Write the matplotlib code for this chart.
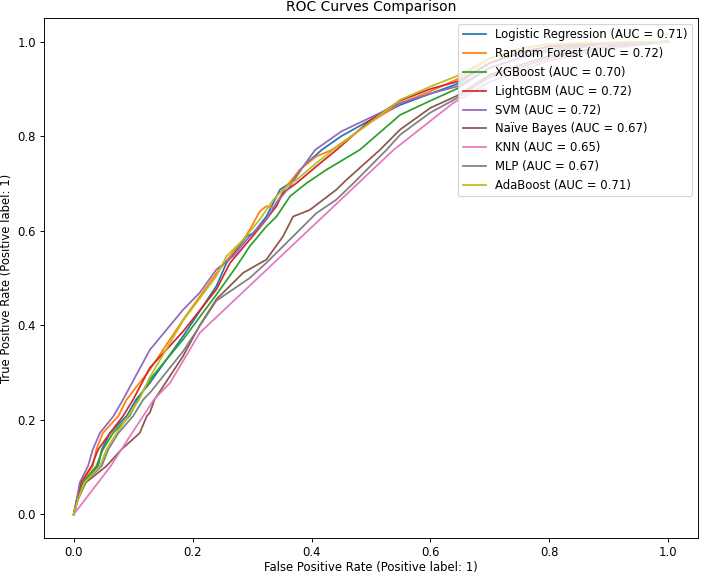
import matplotlib
matplotlib.use("Agg")
import matplotlib.pyplot as plt

model_names = ["Logistic Regression", "Random Forest", "XGBoost", "LightGBM", "SVM",
               "Naive Bayes", "KNN", "MLP", "AdaBoost"]
auc_values = [0.71, 0.72, 0.70, 0.72, 0.72, 0.67, 0.65, 0.67, 0.71]

lr_fpr = [0, 0.006, 0.016, 0.041, 0.047, 0.061, 0.089, 0.105, 0.128, 0.184, 0.240, 0.257, 0.291, 0.302, 0.324, 0.347, 0.364, 0.386, 0.417, 0.45, 0.5, 0.549, 0.6, 0.644, 0.7, 0.75, 0.8, 0.9, 1.0]
lr_tpr = [0, 0.031, 0.067, 0.102, 0.137, 0.172, 0.208, 0.243, 0.278, 0.377, 0.483, 0.532, 0.588, 0.595, 0.630, 0.687, 0.701, 0.736, 0.771, 0.80, 0.835, 0.866, 0.89, 0.91, 0.955, 0.975, 0.99, 0.997, 1.0]

rf_fpr = [0, 0.005, 0.013, 0.032, 0.038, 0.049, 0.075, 0.089, 0.128, 0.184, 0.240, 0.285, 0.296, 0.313, 0.324, 0.336, 0.341, 0.358, 0.380, 0.408, 0.434, 0.5, 0.55, 0.6, 0.644, 0.7, 0.75, 0.8, 0.9, 1.0]
rf_tpr = [0, 0.031, 0.067, 0.102, 0.137, 0.172, 0.208, 0.243, 0.306, 0.412, 0.510, 0.581, 0.602, 0.641, 0.652, 0.648, 0.659, 0.694, 0.729, 0.757, 0.771, 0.83, 0.87, 0.895, 0.92, 0.965, 0.985, 0.995, 0.998, 1.0]

xgb_fpr = [0, 0.006, 0.015, 0.038, 0.049, 0.066, 0.094, 0.108, 0.128, 0.184, 0.240, 0.274, 0.296, 0.324, 0.341, 0.364, 0.392, 0.425, 0.481, 0.549, 0.6, 0.644, 0.7, 0.8, 0.9, 1.0]
xgb_tpr = [0, 0.031, 0.067, 0.102, 0.137, 0.172, 0.208, 0.243, 0.285, 0.370, 0.465, 0.525, 0.567, 0.609, 0.630, 0.673, 0.701, 0.729, 0.771, 0.845, 0.875, 0.900, 0.945, 0.985, 0.995, 1.0]

lgbm_fpr = [0, 0.005, 0.012, 0.030, 0.041, 0.061, 0.083, 0.100, 0.128, 0.184, 0.240, 0.263, 0.296, 0.319, 0.341, 0.352, 0.375, 0.408, 0.442, 0.5, 0.549, 0.6, 0.644, 0.7, 0.75, 0.8, 0.9, 1.0]
lgbm_tpr = [0, 0.031, 0.067, 0.102, 0.137, 0.172, 0.208, 0.243, 0.310, 0.387, 0.476, 0.532, 0.581, 0.616, 0.652, 0.680, 0.701, 0.736, 0.771, 0.835, 0.875, 0.90, 0.915, 0.955, 0.978, 0.99, 0.997, 1.0]

svm_fpr = [0, 0.005, 0.010, 0.024, 0.032, 0.044, 0.067, 0.083, 0.128, 0.184, 0.212, 0.240, 0.268, 0.296, 0.324, 0.341, 0.364, 0.386, 0.406, 0.45, 0.5, 0.55, 0.6, 0.644, 0.7, 0.75, 0.8, 0.9, 1.0]
svm_tpr = [0, 0.030, 0.067, 0.102, 0.137, 0.172, 0.208, 0.243, 0.348, 0.433, 0.469, 0.518, 0.546, 0.588, 0.624, 0.659, 0.694, 0.736, 0.771, 0.81, 0.84, 0.87, 0.89, 0.905, 0.945, 0.965, 0.98, 0.995, 1.0]

nb_fpr = [0, 0.007, 0.020, 0.055, 0.080, 0.111, 0.123, 0.128, 0.136, 0.184, 0.212, 0.240, 0.285, 0.324, 0.352, 0.369, 0.397, 0.420, 0.442, 0.459, 0.515, 0.549, 0.6, 0.644, 0.7, 0.8, 0.9, 1.0]
nb_tpr = [0, 0.031, 0.067, 0.102, 0.137, 0.172, 0.208, 0.215, 0.243, 0.335, 0.400, 0.455, 0.511, 0.539, 0.588, 0.630, 0.644, 0.666, 0.687, 0.708, 0.771, 0.814, 0.86, 0.885, 0.93, 0.97, 0.99, 1.0]

knn_fpr = [0, 0.061, 0.098, 0.135, 0.162, 0.212, 0.538, 0.638, 0.7, 0.8, 0.9, 1.0]
knn_tpr = [0, 0.100, 0.172, 0.243, 0.278, 0.384, 0.771, 0.870, 0.915, 0.96, 0.985, 1.0]

mlp_fpr = [0, 0.007, 0.018, 0.047, 0.058, 0.075, 0.100, 0.117, 0.128, 0.184, 0.240, 0.296, 0.324, 0.352, 0.380, 0.408, 0.442, 0.470, 0.526, 0.549, 0.6, 0.644, 0.7, 0.8, 0.9, 1.0]
mlp_tpr = [0, 0.031, 0.067, 0.102, 0.137, 0.172, 0.208, 0.243, 0.257, 0.345, 0.452, 0.500, 0.532, 0.567, 0.602, 0.637, 0.666, 0.700, 0.771, 0.803, 0.85, 0.88, 0.925, 0.965, 0.99, 1.0]

ada_fpr = [0, 0.007, 0.018, 0.044, 0.055, 0.072, 0.092, 0.110, 0.128, 0.184, 0.240, 0.257, 0.285, 0.313, 0.336, 0.352, 0.375, 0.408, 0.436, 0.5, 0.549, 0.6, 0.644, 0.7, 0.75, 0.8, 0.9, 1.0]
ada_tpr = [0, 0.031, 0.067, 0.102, 0.137, 0.172, 0.208, 0.243, 0.290, 0.410, 0.504, 0.546, 0.581, 0.624, 0.666, 0.687, 0.708, 0.743, 0.771, 0.83, 0.877, 0.905, 0.927, 0.965, 0.985, 0.995, 0.998, 1.0]

curves = [(lr_fpr, lr_tpr), (rf_fpr, rf_tpr), (xgb_fpr, xgb_tpr), (lgbm_fpr, lgbm_tpr),
          (svm_fpr, svm_tpr), (nb_fpr, nb_tpr), (knn_fpr, knn_tpr), (mlp_fpr, mlp_tpr),
          (ada_fpr, ada_tpr)]

DPI = 83.5
fig = plt.figure(figsize=(701 / DPI, 575 / DPI), dpi=DPI)
ax = fig.add_axes([44 / 701, 37 / 575, 654 / 701, 520 / 575])

for name, auc, (fpr, tpr) in zip(model_names, auc_values, curves):
    label_name = "Naïve Bayes" if name == "Naive Bayes" else name
    ax.plot(fpr, tpr, label=f"{label_name} (AUC = {auc:.2f})")

ax.set_xlabel("False Positive Rate (Positive label: 1)", labelpad=2)
ax.set_ylabel("True Positive Rate (Positive label: 1)")
ax.set_title("ROC Curves Comparison")
ax.legend(loc="upper right")

fig.savefig("out.png", dpi=DPI)
